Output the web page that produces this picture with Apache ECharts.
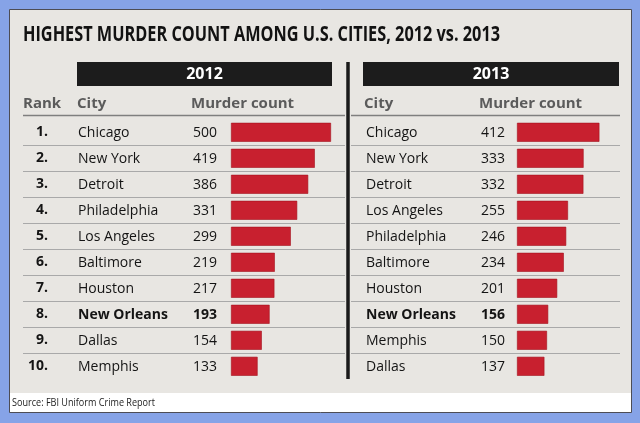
<!DOCTYPE html>
<html>
<head>
<meta charset="utf-8">
<script src="https://cdn.jsdelivr.net/npm/echarts@6/dist/echarts.min.js"></script>
<style>html,body{margin:0;padding:0;}#c{width:640px;height:423px;}</style>
</head>
<body>
<div id="c"></div>
<script>
const titleText = 'HIGHEST MURDER COUNT AMONG U.S. CITIES, 2012 vs. 2013';
const sourceText = 'Source: FBI Uniform Crime Report';
const years = ['2012', '2013'];
const ranks = ['1.', '2.', '3.', '4.', '5.', '6.', '7.', '8.', '9.', '10.'];
const cities2012 = ['Chicago', 'New York', 'Detroit', 'Philadelphia', 'Los Angeles', 'Baltimore', 'Houston', 'New Orleans', 'Dallas', 'Memphis'];
const counts2012 = [500, 419, 386, 331, 299, 219, 217, 193, 154, 133];
const cities2013 = ['Chicago', 'New York', 'Detroit', 'Los Angeles', 'Philadelphia', 'Baltimore', 'Houston', 'New Orleans', 'Memphis', 'Dallas'];
const counts2013 = [412, 333, 332, 255, 246, 234, 201, 156, 150, 137];
const highlightCity = 'New Orleans';

const FF = '"Open Sans", Lato, sans-serif';
const ctx = document.createElement('canvas').getContext('2d');
function fitScale(text, font, w) { ctx.font = font; return w / ctx.measureText(text).width; }

const titleFont = 'bold 21px ' + FF;
const titleScale = fitScale(titleText, titleFont, 477);
const srcFont = '11px ' + FF;
const srcScale = Math.min(1, fitScale(sourceText, srcFont, 143));

const chart = echarts.init(document.getElementById('c'));
const TOP = 119.3, H = 260;
const rowFont = { fontFamily: FF, fontSize: 14, color: '#141414', padding: [2, 0, 0, 0] };
const boldRich = { b: { fontFamily: FF, fontSize: 14, color: '#141414', fontWeight: 'bold' } };

function labelAxes(gridIndex, cities, counts, barLeft, cityX, numMargin, withRank) {
  const base = {
    type: 'category', gridIndex: gridIndex, data: cities, inverse: true, position: 'left',
    axisLine: { show: false }, axisTick: { show: false }, splitLine: { show: false }
  };
  const axes = [
    Object.assign({}, base, {
      axisLabel: Object.assign({}, rowFont, {
        interval: 0, margin: numMargin,
        formatter: (v, i) => v === highlightCity ? '{b|' + counts[i] + '}' : String(counts[i]),
        rich: boldRich
      })
    }),
    Object.assign({}, base, {
      offset: barLeft - cityX,
      axisLabel: Object.assign({}, rowFont, {
        interval: 0, margin: 0, align: 'left',
        formatter: (v) => v === highlightCity ? '{b|' + v + '}' : v,
        rich: boldRich
      })
    })
  ];
  if (withRank) {
    axes.push(Object.assign({}, base, {
      offset: barLeft - 48,
      axisLabel: Object.assign({}, rowFont, {
        interval: 0, margin: 0, align: 'right', fontWeight: 'bold',
        formatter: (v, i) => ranks[i]
      })
    }));
  }
  return axes;
}

const yAxes = [].concat(
  labelAxes(0, cities2012, counts2012, 231, 78, 14, true),
  labelAxes(1, cities2013, counts2013, 517, 366, 12, false)
);
[2, 3].forEach(g => yAxes.push({
  type: 'category', gridIndex: g, data: ranks, inverse: true, position: 'left',
  axisLine: { show: false }, axisTick: { show: false }, axisLabel: { show: false },
  splitLine: { show: true, showMinLine: false, showMaxLine: false, lineStyle: { color: '#a9a9a9', width: 1.2 } }
}));

const headFont = { fontFamily: FF, fontSize: 15, fontWeight: 'bold', fill: '#5b5b5b' };

chart.setOption({
  backgroundColor: '#86a3e7',
  animation: false,
  grid: [
    { left: 231, top: TOP, width: 100, height: H },
    { left: 517, top: TOP, width: 100, height: H },
    { left: 23, top: TOP, width: 322, height: H },
    { left: 351, top: TOP, width: 269, height: H }
  ],
  xAxis: [0, 1, 2, 3].map(g => ({ type: 'value', gridIndex: g, min: 0, max: 500, show: false, position: 'bottom' })),
  yAxis: yAxes,
  series: [
    { type: 'bar', xAxisIndex: 0, yAxisIndex: 0, data: counts2012, barWidth: 19,
      itemStyle: { color: '#c8202f', borderColor: '#a5121e', borderWidth: 0.6 }, z: 5 },
    { type: 'bar', xAxisIndex: 1, yAxisIndex: 3, data: counts2013, barWidth: 19,
      itemStyle: { color: '#c8202f', borderColor: '#a5121e', borderWidth: 0.6 }, z: 5 }
  ],
  graphic: [
    { type: 'rect', z: -10, shape: { x: 9.5, y: 9.5, width: 622, height: 403 }, style: { fill: '#e8e6e2', stroke: '#4d4d55', lineWidth: 1 } },
    { type: 'rect', z: -9, shape: { x: 10, y: 393, width: 621, height: 19 }, style: { fill: '#ffffff' } },
    { type: 'text', x: 23, y: 35, scaleX: titleScale, style: { text: titleText, font: titleFont, fill: '#121212', textVerticalAlign: 'middle' } },
    { type: 'rect', shape: { x: 77, y: 62, width: 255, height: 24 }, style: { fill: '#1c1c1c' } },
    { type: 'rect', shape: { x: 363, y: 62, width: 256, height: 24 }, style: { fill: '#1c1c1c' } },
    { type: 'text', x: 204.5, y: 74.5, style: { text: years[0], fontFamily: FF, fontSize: 16, fontWeight: 'bold', fill: '#ffffff', textAlign: 'center', textVerticalAlign: 'middle' } },
    { type: 'text', x: 491, y: 74.5, style: { text: years[1], fontFamily: FF, fontSize: 16, fontWeight: 'bold', fill: '#ffffff', textAlign: 'center', textVerticalAlign: 'middle' } },
    { type: 'text', x: 23, y: 104, style: Object.assign({ text: 'Rank', textVerticalAlign: 'middle' }, headFont) },
    { type: 'text', x: 77, y: 104, style: Object.assign({ text: 'City', textVerticalAlign: 'middle' }, headFont) },
    { type: 'text', x: 191, y: 104, style: Object.assign({ text: 'Murder count', textVerticalAlign: 'middle' }, headFont) },
    { type: 'text', x: 364, y: 104, style: Object.assign({ text: 'City', textVerticalAlign: 'middle' }, headFont) },
    { type: 'text', x: 479, y: 104, style: Object.assign({ text: 'Murder count', textVerticalAlign: 'middle' }, headFont) },
    { type: 'line', shape: { x1: 23, y1: 115.5, x2: 345, y2: 115.5 }, style: { stroke: '#7f7f7f', lineWidth: 1.5 } },
    { type: 'line', shape: { x1: 351, y1: 115.5, x2: 620, y2: 115.5 }, style: { stroke: '#7f7f7f', lineWidth: 1.5 } },
    { type: 'line', shape: { x1: 348, y1: 62, x2: 348, y2: 379 }, style: { stroke: '#1a1a1a', lineWidth: 3.5 } },
    { type: 'text', x: 12, y: 403, scaleX: srcScale, style: { text: sourceText, font: srcFont, fill: '#222222', textVerticalAlign: 'middle' } }
  ]
});
</script>
</body>
</html>
